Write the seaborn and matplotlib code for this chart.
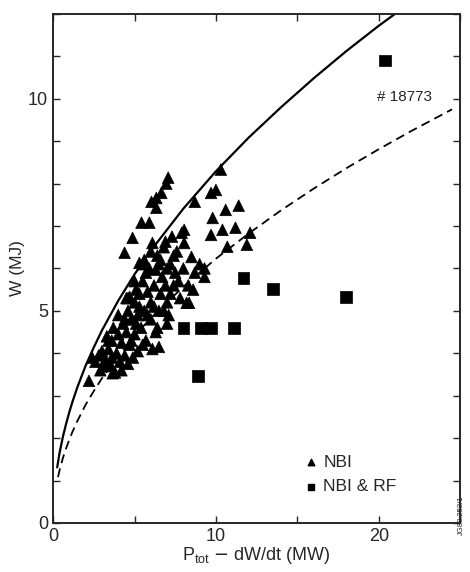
import pandas as pd
import matplotlib
matplotlib.use("Agg")
import matplotlib.pyplot as plt
import seaborn as sns
from matplotlib.ticker import MultipleLocator

## data
# NBI shots (triangles)
nbi_p = [7.07, 6.95, 6.65, 6.34, 6.04, 6.34, 5.43, 5.91, 4.88, 4.39, 5.3,
         10.3, 9.7, 10.0, 8.7, 9.8, 10.6, 11.4, 9.7, 10.4, 11.2, 12.1, 11.9, 10.7, 8.5, 7.1,
         2.2, 2.9, 3.8, 2.8, 3.0, 3.2, 3.4, 3.5, 3.6, 3.9, 4.0, 4.1, 4.2, 4.3, 4.4,
         4.5, 4.6, 4.7, 4.8, 4.9, 5.0, 5.0, 5.2, 5.2, 5.3, 5.4, 5.5, 5.6, 5.7, 5.8,
         5.9, 6.0, 6.0, 6.1, 6.2, 6.3, 6.3, 6.4, 6.5, 6.5, 6.6, 6.7, 6.8, 6.9, 7.0,
         7.0, 7.2, 7.3, 7.4, 7.5, 7.6, 7.8, 7.9, 8.0, 8.2, 8.3, 8.7, 9.0, 9.3, 8.05,
         8.05, 2.4, 3.66, 4.7, 6.5, 8.35, 3.3, 4.0, 4.5, 5.0, 5.6, 6.1, 3.1, 3.7,
         3.3, 3.6, 4.2, 4.6, 4.8, 5.1, 5.5, 5.3, 5.8, 6.2, 6.4, 6.8, 6.9, 7.2,
         7.7, 7.0, 6.6, 5.7, 5.1, 4.6, 8.6, 9.3, 7.4, 6.0, 5.5, 2.6, 3.4, 4.4]
nbi_w = [8.14, 8.0, 7.78, 7.66, 7.57, 7.43, 7.08, 7.08, 6.72, 6.37, 6.13,
         8.33, 7.78, 7.85, 7.57, 7.19, 7.38, 7.48, 6.79, 6.91, 6.96, 6.84, 6.56, 6.51, 6.27, 4.9,
         3.35, 3.6, 3.55, 3.95, 4.05, 3.85, 4.1, 3.75, 4.3, 4.0, 4.45, 3.8, 4.25, 4.7, 3.95,
         4.5, 5.0, 4.2, 4.8, 3.9, 5.2, 4.45, 4.9, 4.05, 5.4, 4.6, 5.7, 5.0, 4.3, 5.45,
         6.0, 4.8, 5.2, 4.1, 5.6, 5.97, 4.5, 6.3, 5.0, 4.15, 5.4, 5.8, 6.5, 6.63, 4.7,
         5.2, 6.1, 6.75, 5.6, 5.9, 6.4, 5.3, 6.84, 6.0, 5.19, 5.6, 5.9, 6.1, 6.0, 6.6,
         6.91, 3.9, 3.53, 5.33, 6.1, 5.19, 4.4, 4.9, 5.3, 5.7, 6.2, 6.6, 3.7, 4.6,
         3.7, 3.9, 3.6, 3.75, 4.3, 4.7, 4.2, 5.1, 4.9, 5.1, 4.6, 5.0, 5.6, 5.4,
         5.7, 6.0, 6.2, 5.9, 5.5, 5.3, 5.5, 5.8, 6.3, 6.4, 6.1, 3.8, 4.3, 4.8]

# NBI & RF shots (squares)
rf_p = [20.4, 11.7, 13.5, 18.0, 8.0, 9.1, 9.7, 11.1, 8.9]
rf_w = [10.9, 5.78, 5.52, 5.33, 4.6, 4.6, 4.6, 4.6, 3.47]

# scaling curves
solid_p = [0.25, 0.4, 0.6, 0.8, 1, 1.2, 1.5, 2, 2.5, 3, 4, 5, 6, 8, 10, 12, 14, 16, 18, 20, 21]
solid_w = [1.31, 1.66, 2.03, 2.34, 2.62, 2.87, 3.21, 3.71, 4.14, 4.54, 5.24, 5.86, 6.42,
           7.41, 8.29, 9.08, 9.80, 10.48, 11.12, 11.72, 12.0]
dash_p = [0.3, 0.4, 0.6, 0.8, 1, 1.2, 1.5, 2, 2.5, 3, 4, 5, 6, 8, 10, 12, 14, 16, 18, 20, 22, 24.5]
dash_w = [1.08, 1.25, 1.53, 1.76, 1.97, 2.16, 2.41, 2.79, 3.11, 3.41, 3.94, 4.41, 4.83,
          5.57, 6.23, 6.82, 7.37, 7.88, 8.36, 8.81, 9.24, 9.75]

df = pd.DataFrame({
    "P": nbi_p + rf_p,
    "W": nbi_w + rf_w,
    "heating": ["NBI"] * len(nbi_p) + ["NBI & RF"] * len(rf_p),
})

sns.set_style("ticks")
plt.rcParams["font.family"] = ["Liberation Sans", "DejaVu Sans"]

fig = plt.figure(figsize=(4.7, 5.72), dpi=100)
ax = fig.add_axes([0.113, 0.0857, 0.866, 0.89])

sns.lineplot(x=solid_p, y=solid_w, color="black", lw=1.6, ax=ax, sort=False)
sns.lineplot(x=dash_p, y=dash_w, color="black", lw=1.3, ax=ax, sort=False,
             linestyle=(0, (5, 3)))

sns.scatterplot(data=df, x="P", y="W", style="heating", markers={"NBI": "^", "NBI & RF": "s"},
                color="black", s=70, edgecolor="black", linewidth=0.5, legend=False, ax=ax)

# legend with small proxy markers
h1 = ax.scatter([], [], marker="^", color="black", s=22)
h2 = ax.scatter([], [], marker="s", color="black", s=22)
ax.legend([h1, h2], ["NBI", "NBI & RF"], loc="upper left", bbox_to_anchor=(0.57, 0.165),
          frameon=False, fontsize=12.5, handletextpad=0.1, labelspacing=0.55,
          handlelength=1.2)

ax.text(19.9, 10.05, "# 18773", fontsize=11, va="center")

ax.set_xlim(0, 25)
ax.set_ylim(0, 12)
ax.xaxis.set_major_locator(MultipleLocator(10))
ax.xaxis.set_minor_locator(MultipleLocator(5))
ax.yaxis.set_major_locator(MultipleLocator(5))
ax.yaxis.set_minor_locator(MultipleLocator(1))
ax.tick_params(which="both", direction="in", top=True, right=True, length=5, width=1, labelsize=13)
for sp in ax.spines.values():
    sp.set_linewidth(1.4)

ax.set_xlabel(r"P$_{\mathregular{tot}}$ $-$ dW/dt (MW)", fontsize=13, labelpad=0)
ax.set_ylabel("W (MJ)", fontsize=12.5, labelpad=2)

fig.text(0.99, 0.1, "JG88.252/1", rotation=90, fontsize=5.5, ha="right", va="center")

fig.savefig("out.png", dpi=100)
